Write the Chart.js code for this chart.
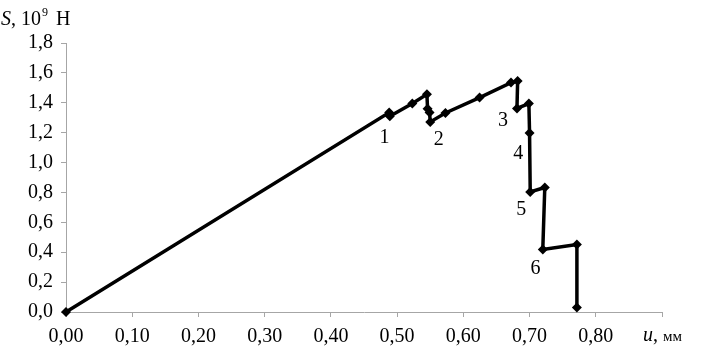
<!DOCTYPE html>
<html lang="ru">
<head>
<meta charset="UTF-8">
<title>S(u)</title>
<script src="https://cdn.jsdelivr.net/npm/chart.js@4.4.0/dist/chart.umd.min.js"></script>
<style>
  html, body { margin: 0; padding: 0; background: #fff; }
</style>
</head>
<body>
<canvas id="sChart" width="702" height="358"></canvas>
<script>
// displacement u, mm and force S, 10^9 H
var uVals = [0.000, 0.488, 0.489, 0.523, 0.545, 0.546, 0.549, 0.550, 0.573, 0.6245, 0.672, 0.682, 0.681, 0.699, 0.700, 0.701, 0.723, 0.720, 0.7715, 0.7715];
var sVals = [0.000, 1.335, 1.310, 1.395, 1.457, 1.360, 1.335, 1.272, 1.332, 1.435, 1.535, 1.545, 1.362, 1.395, 1.198, 0.803, 0.833, 0.418, 0.451, 0.030];

// stage numbers placed next to the curve (data units)
var stageNames = ['1', '2', '3', '4', '5', '6'];
var stageU = [0.481, 0.563, 0.660, 0.683, 0.6875, 0.709];
var stageS = [1.169, 1.153, 1.283, 1.062, 0.687, 0.292];

var xTicks = { min: 0, max: 0.9, step: 0.1 };
var yTicks = { min: 0, max: 1.8, step: 0.2 };

var serif = "'Liberation Serif', 'Times New Roman', serif";
var axisGrey = '#a6a6a6';

var points = uVals.map(function (u, i) { return { x: u, y: sVals[i] }; });

var textPlugin = {
    id: 'texts',
    afterDraw: function (chart) {
        var c = chart.ctx;
        var xs = chart.scales.x, ys = chart.scales.y;
        c.save();
        c.fillStyle = '#000';
        c.textAlign = 'center';
        c.textBaseline = 'middle';
        c.font = '20px ' + serif;
        for (var i = 0; i < stageNames.length; i++) {
            c.fillText(stageNames[i], xs.getPixelForValue(stageU[i]), ys.getPixelForValue(stageS[i]));
        }
        // y axis title: S, 10^9 H
        c.textAlign = 'left';
        c.textBaseline = 'alphabetic';
        var x0 = 1, yb = 25;
        c.font = 'italic 20px ' + serif;
        c.fillText('S', x0, yb);
        x0 += c.measureText('S').width;
        c.font = '20px ' + serif;
        c.fillText(', 10', x0, yb);
        x0 += c.measureText(', 10').width;
        c.font = '12px ' + serif;
        c.fillText('9', x0 + 1, yb - 9);
        x0 += c.measureText('9').width + 4;
        c.font = '20px ' + serif;
        c.fillText(' H', x0, yb);
        // x axis title: u, мм
        var xb = 341;
        x0 = 643;
        c.font = 'italic 20px ' + serif;
        c.fillText('u', x0, xb);
        x0 += c.measureText('u').width;
        c.font = '20px ' + serif;
        c.fillText(',', x0, xb);
        x0 += c.measureText(', ').width;
        c.font = '15px ' + serif;
        c.fillText('мм', x0, xb);
        c.restore();
    }
};

var ctx = document.getElementById('sChart').getContext('2d');
var sChart = new Chart(ctx, {
    type: 'scatter',
    data: {
        datasets: [{
            data: points,
            showLine: true,
            clip: false,
            borderColor: '#000',
            backgroundColor: '#000',
            borderWidth: 3.5,
            pointStyle: 'rectRot',
            pointRadius: 5,
            pointBorderWidth: 0,
            tension: 0
        }]
    },
    options: {
        responsive: false,
        animation: false,
        devicePixelRatio: 1,
        layout: { padding: { left: 0, right: 40, top: 43, bottom: 0 } },
        plugins: { legend: { display: false }, tooltip: { enabled: false } },
        scales: {
            x: {
                type: 'linear',
                min: xTicks.min,
                max: xTicks.max,
                afterFit: function (scale) { scale.height = 46; },
                border: { color: axisGrey, width: 1 },
                grid: { drawOnChartArea: false, drawTicks: true, tickLength: 5, color: axisGrey },
                ticks: {
                    stepSize: xTicks.step,
                    autoSkip: false,
                    color: '#000',
                    padding: 8,
                    maxRotation: 0,
                    font: { family: serif, size: 20 },
                    callback: function (v) {
                        if (Math.abs(v - xTicks.max) < 1e-6) return '';
                        return v.toFixed(2).replace('.', ',');
                    }
                }
            },
            y: {
                type: 'linear',
                min: yTicks.min,
                max: yTicks.max,
                afterFit: function (scale) { scale.width = 66; },
                border: { color: axisGrey, width: 1 },
                grid: { drawOnChartArea: false, drawTicks: true, tickLength: 5, color: axisGrey },
                ticks: {
                    stepSize: yTicks.step,
                    autoSkip: false,
                    color: '#000',
                    padding: 8,
                    font: { family: serif, size: 20 },
                    callback: function (v) { return v.toFixed(1).replace('.', ','); }
                }
            }
        }
    },
    plugins: [textPlugin]
});
</script>
</body>
</html>
